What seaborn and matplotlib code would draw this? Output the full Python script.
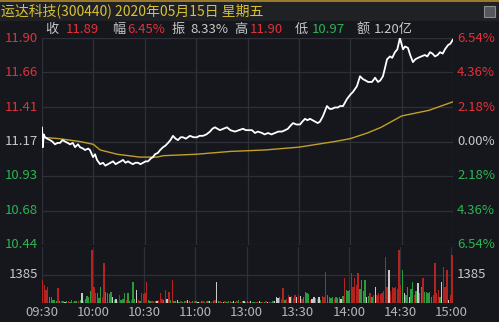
import matplotlib
matplotlib.use("Agg")
import matplotlib.pyplot as plt
import matplotlib.transforms as mtransforms
from matplotlib.patches import Rectangle
import seaborn as sns
import pandas as pd

# ---------------- data ----------------
title = "运达科技(300440) 2020年05月15日 星期五"
prev_close = 11.17
info_labels = ["收", "幅", "振", "高", "低", "额"]
info_values = ["11.89", "6.45%", "8.33%", "11.90", "10.97", "1.20亿"]

price_ticks = [11.90, 11.66, 11.41, 11.17, 10.93, 10.68, 10.44]
price_tick_labels = ["11.90", "11.66", "11.41", "11.17", "10.93", "10.68", "10.44"]
pct_tick_labels = ["6.54%", "4.36%", "2.18%", "0.00%", "2.18%", "4.36%", "6.54%"]
vol_tick = 1385
time_ticks = [0, 30, 60, 90, 120, 150, 180, 210, 240]
time_labels = ["09:30", "10:00", "10:30", "11:00", "13:00", "13:30", "14:00", "14:30", "15:00"]

price_minute = [0, 0.5, 1, 1.75, 3, 4.7, 6, 7.6, 9, 10.5, 12, 13.4, 15, 16.4, 18, 19.3, 21, 22.2, 24, 25.1,
                27, 28, 29.8, 31, 32.1, 33.9, 35.6, 37, 38.5, 40, 41.5, 43, 44.4, 46, 47.3, 48.8, 50.2, 51.5,
                53.1, 54.5, 56.1, 57.5, 59, 60.5, 61.9, 63.5, 64.8, 66, 67.7, 69, 70.7, 72, 73.6, 75, 76.5, 78,
                79.4, 81, 82.3, 84, 86.4, 88.5, 90.5, 92, 94, 96, 98.1, 99.5, 101, 102.5, 103.9, 106, 108, 110,
                112.7, 115, 117.4, 119, 120, 122.6, 124.4, 126, 128.5, 130, 132, 134, 136, 138, 140.1, 142,
                143.6, 145, 146.6, 148.5, 150.7, 152, 153.6, 155, 156.5, 158, 159.4, 161, 162.3, 164.1, 166.4,
                168, 169.3, 171, 172.8, 174, 175.8, 178.1, 180, 181.6, 183.9, 185.7, 187.4, 189, 190.4, 192.7,
                194.5, 196.2, 197.5, 199.1, 201.5, 203.2, 204.5, 206.1, 207.5, 209, 210.8, 212, 213.7, 215,
                216.6, 218, 219.6, 221.5, 223.6, 225, 226.6, 228, 229.5, 231, 232.4, 234, 235.3, 237.1, 238.5, 240]
price_value = [11.27, 11.13, 11.22, 11.20, 11.19, 11.18, 11.17, 11.15, 11.16, 11.16, 11.18, 11.17, 11.16, 11.15,
               11.16, 11.13, 11.15, 11.13, 11.12, 11.11, 11.12, 11.11, 11.06, 11.08, 11.04, 11.01, 11.02, 11.00,
               11.01, 11.02, 11.03, 11.01, 11.02, 11.03, 11.04, 11.02, 11.03, 11.02, 11.01, 11.02, 11.02, 11.01,
               11.02, 11.03, 11.03, 11.05, 11.06, 11.08, 11.09, 11.11, 11.13, 11.14, 11.16, 11.18, 11.21, 11.19,
               11.18, 11.20, 11.20, 11.19, 11.21, 11.20, 11.20, 11.21, 11.21, 11.22, 11.24, 11.26, 11.27, 11.26,
               11.25, 11.26, 11.27, 11.25, 11.24, 11.25, 11.26, 11.25, 11.25, 11.25, 11.23, 11.24, 11.23, 11.22,
               11.23, 11.22, 11.23, 11.24, 11.24, 11.25, 11.26, 11.28, 11.30, 11.29, 11.29, 11.31, 11.33, 11.32,
               11.33, 11.32, 11.31, 11.30, 11.31, 11.35, 11.42, 11.40, 11.40, 11.41, 11.41, 11.42, 11.42, 11.47,
               11.50, 11.52, 11.56, 11.63, 11.61, 11.60, 11.59, 11.59, 11.62, 11.59, 11.60, 11.63, 11.75, 11.77,
               11.76, 11.80, 11.82, 11.90, 11.82, 11.84, 11.83, 11.78, 11.73, 11.75, 11.76, 11.77, 11.78, 11.77,
               11.80, 11.79, 11.77, 11.78, 11.80, 11.79, 11.82, 11.85, 11.86, 11.89]

avg_minute = [0, 10, 22, 30, 34, 44, 57, 67, 71, 90, 110, 130, 150, 171, 180, 190, 198, 210, 226, 240]
avg_value = [11.20, 11.19, 11.17, 11.15, 11.11, 11.08, 11.06, 11.06, 11.07, 11.08, 11.10, 11.11, 11.13, 11.17,
             11.19, 11.23, 11.27, 11.35, 11.39, 11.45]

volume = [1140, 890, 640, 800, 300, 280, 150, 140, 120, 750,
          100, 80, 120, 60, 90, 110, 70, 130, 60, 100,
          80, 120, 150, 500, 90, 200, 350, 300, 600, 2620,
          800, 500, 500, 250, 800, 300, 1980, 550, 500, 450,
          550, 300, 150, 200, 120, 400, 150, 200, 500, 150,
          500, 120, 150, 1040, 200, 640, 150, 120, 500, 450,
          500, 1040, 150, 100, 80, 120, 100, 90, 150, 500,
          200, 150, 640, 200, 550, 150, 1140, 100, 80, 150,
          60, 100, 70, 120, 80, 150, 90, 60, 100, 120,
          80, 70, 60, 110, 90, 50, 120, 80, 100, 60,
          90, 150, 1040, 80, 100, 60, 70, 90, 50, 120,
          80, 60, 100, 70, 90, 130, 60, 80, 110, 60,
          80, 60, 100, 50, 70, 40, 60, 80, 50, 70,
          60, 90, 50, 70, 60, 80, 100, 300, 250, 280,
          200, 740, 150, 200, 400, 300, 350, 250, 400, 300,
          400, 350, 200, 300, 550, 500, 450, 150, 200, 300,
          250, 200, 300, 150, 350, 300, 1530, 400, 300, 250,
          300, 200, 300, 250, 300, 200, 350, 1240, 640, 600,
          640, 1480, 800, 1240, 900, 1480, 700, 1140, 600, 1140,
          300, 350, 500, 300, 400, 800, 400, 500, 450, 500,
          600, 2280, 800, 1630, 600, 800, 750, 800, 700, 2620,
          900, 1630, 500, 400, 800, 300, 700, 1040, 400, 600,
          990, 500, 800, 1240, 550, 550, 500, 550, 300, 400,
          1980, 500, 640, 300, 1040, 1780, 800, 1630, 150, 400,
          2380]
volume_dir = ("rrrrgggggr" "grgwgrggrg" "grgwrggggr" "rrgggrrggg"
              "gwgwrrgggr" "ggrggwrgrr" "rrggrrgwrr" "rgrwrgrggw"
              "grggrwgrgr" "gwrgrgrgwr" "grwgrgwrgg" "rgwgrgrgwg"
              "grwggrgwgr" "grwgrgwwwg" "rrgrrwrrrw" "rwrggggrww"
              "grwgrrrggg" "grgggwgrgg" "grrrrrgggg" "wgrgrwrrrr"
              "rrrwrrrrrr" "rgwggwggrg" "wggrgggggr" "rrrgwrrrwr" "r")

# ---------------- style ----------------
BG = "#15171c"
BAR_BG = "#1f2125"
GRID = "#2e3037"
RED = "#e2313b"
GREEN = "#2cb452"
GREY = "#c8c8c8"
YELLOW = "#d9c235"

sns.set_theme(style="dark")
plt.rcParams['font.family'] = ['Noto Sans CJK SC', 'DejaVu Sans']

W, H = 499, 322
fig = plt.figure(figsize=(W / 100, H / 100), dpi=100, facecolor=BG)


def fx(px):
    return px / W


def fy(py):
    return 1 - py / H


# title bar
fig.patches.append(Rectangle((0, fy(21)), 1, 1 - fy(21), transform=fig.transFigure,
                             facecolor=BAR_BG, edgecolor="none", zorder=0))
fig.patches.append(Rectangle((0, fy(1.5)), 1, 1.5 / H, transform=fig.transFigure,
                             facecolor="#9a7a2a", edgecolor="none", zorder=1))
fig.patches.append(Rectangle((fx(484), fy(17)), 11 / W, 11 / H, transform=fig.transFigure,
                             facecolor="#55575c", edgecolor="#8a8c90", lw=0.8, zorder=1))
fig.text(fx(1), fy(11), title, color=YELLOW, fontsize=10, va="center", ha="left")

# info row
info_x_lab = [45, 112, 172, 234, 295, 357]
info_x_val = [66, 127, 190, 250, 312, 374]
info_colors = [RED, RED, GREY, RED, GREEN, GREY]
for lab, val, xl, xv, c in zip(info_labels, info_values, info_x_lab, info_x_val, info_colors):
    fig.text(fx(xl), fy(29.5), lab, color=GREY, fontsize=9.5, va="center", ha="left")
    fig.text(fx(xv), fy(29.5), val, color=c, fontsize=9.5, va="center", ha="left")

# ---------------- price panel ----------------
L, R = 42, 453
TOP, PBOT = 38, 245
VTOP, VBOT = 247, 303
ax = fig.add_axes([fx(L), fy(PBOT), (R - L) / W, (PBOT - TOP) / H])
ax.set_facecolor(BG)
price_df = pd.DataFrame({"minute": price_minute, "price": price_value})
avg_df = pd.DataFrame({"minute": avg_minute, "price": avg_value})
sns.lineplot(data=avg_df, x="minute", y="price", ax=ax, color="#c29f2a", lw=1.0, zorder=3)
sns.lineplot(data=price_df, x="minute", y="price", ax=ax, color="white", lw=1.3, zorder=4)
ax.set_xlim(0, 240)
ax.set_ylim(10.44, 11.90)
for t in price_ticks:
    ax.axhline(t, color=GRID, lw=0.9, zorder=1)
for t in time_ticks:
    ax.axvline(t, color=GRID, lw=0.9, zorder=1)
ax.set_xticks([])
ax.set_yticks([])
ax.set_xlabel("")
ax.set_ylabel("")
for s in ax.spines.values():
    s.set_visible(False)
trans = mtransforms.blended_transform_factory(fig.transFigure, ax.transData)
for t, lab, pl in zip(price_ticks, price_tick_labels, pct_tick_labels):
    c = RED if t > prev_close + 0.01 else (GREEN if t < prev_close - 0.01 else GREY)
    fig.text(fx(38), t, lab, transform=trans, color=c, fontsize=9.5, ha="right", va="center")
    fig.text(fx(457), t, pl, transform=trans, color=c, fontsize=9.5, ha="left", va="center")

# ---------------- volume panel ----------------
axv = fig.add_axes([fx(L), fy(VBOT), (R - L) / W, (VBOT - VTOP) / H])
axv.set_facecolor(BG)
color_map = {"r": "#b3231f", "g": "#2a9a3c", "w": "#c9c9c9"}
vol_df = pd.DataFrame({"minute": list(range(len(volume))), "vol": volume,
                       "dir": list(volume_dir[:len(volume)])})
for d, sub in vol_df.groupby("dir"):
    axv.bar(sub["minute"], sub["vol"], width=0.8, color=color_map[d], align="edge", zorder=3, lw=0)
axv.set_xlim(0, 241)
axv.set_ylim(0, 2770)
axv.axhline(vol_tick, color=GRID, lw=0.9, zorder=1)
axv.axhline(0, color=GRID, lw=1.2, zorder=1)
for t in time_ticks:
    axv.axvline(t, color=GRID, lw=0.9, zorder=1)
axv.set_xticks([])
axv.set_yticks([])
axv.set_xlabel("")
axv.set_ylabel("")
for s in axv.spines.values():
    s.set_visible(False)
transv = mtransforms.blended_transform_factory(fig.transFigure, axv.transData)
fig.text(fx(38), vol_tick, str(vol_tick), transform=transv, color=GREY, fontsize=9.5, ha="right", va="center")
fig.text(fx(457), vol_tick, str(vol_tick), transform=transv, color=GREY, fontsize=9.5, ha="left", va="center")
transx = mtransforms.blended_transform_factory(axv.transData, fig.transFigure)
for t, lab in zip(time_ticks, time_labels):
    fig.text(t, fy(313), lab, transform=transx, color="#b5b5b5", fontsize=9.5, ha="center", va="center")

fig.savefig("out.png", dpi=100, facecolor=BG)
